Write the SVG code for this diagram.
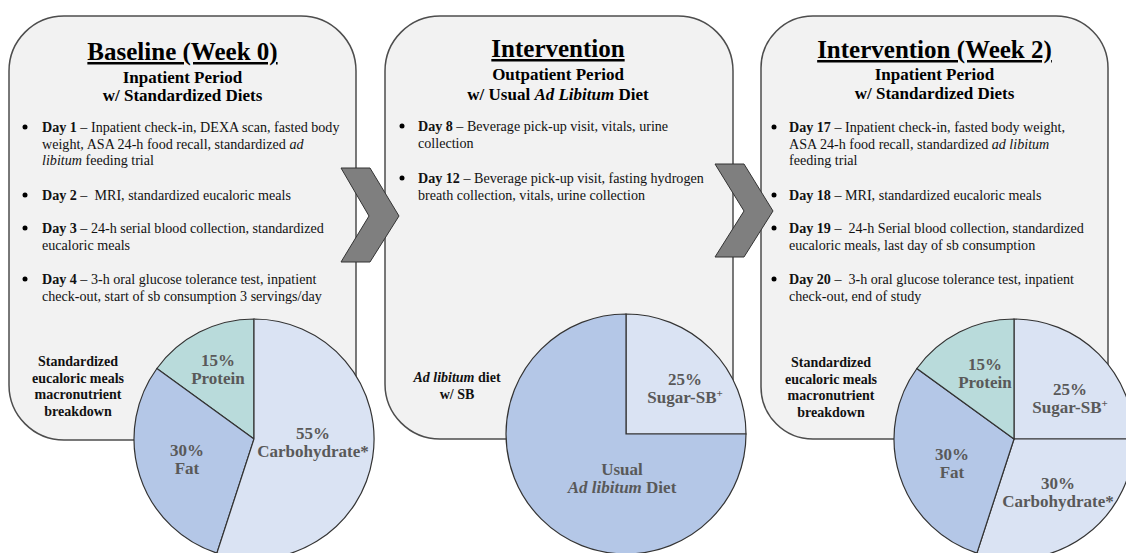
<svg xmlns="http://www.w3.org/2000/svg" width="1126" height="553" viewBox="0 0 1126 553">
<style>
.box{fill:#f2f2f2;stroke:#4d4d4d;stroke-width:1.5}
.chev{fill:#7f7f7f;stroke:#333;stroke-width:1}
.sl{stroke:#333;stroke-width:1.2}
.pro{fill:#b9dbdb}.fat{fill:#b4c7e7}.carb{fill:#dae3f3}
text{font-family:"Liberation Serif","Times New Roman",serif}
.title{font-size:25px;font-weight:bold;text-anchor:middle;text-decoration:underline;fill:#000}
.sub{font-size:17px;font-weight:bold;text-anchor:middle;fill:#000}
.body{font-size:14.1px;fill:#111}
.b{font-weight:bold}
.i{font-style:italic}
.lab{font-size:14px;font-weight:bold;text-anchor:middle;fill:#111}
.pl{font-size:17px;font-weight:bold;text-anchor:middle;fill:#595959}
.dot{fill:#000}
</style>
<rect width="1126" height="553" fill="#fff"/>

<g id="baseline">
<rect class="box" x="9" y="16" width="347" height="424" rx="55" ry="55"/>
<text class="title" x="182.5" y="60">Baseline (Week 0)</text>
<text class="sub" x="182.5" y="83">Inpatient Period</text>
<text class="sub" x="182.5" y="101">w/ Standardized Diets</text>
<circle class="dot" cx="25" cy="127" r="2.5"/>
<text class="body" x="42" y="132"><tspan class="b">Day 1</tspan> – Inpatient check-in, DEXA scan, fasted body</text>
<text class="body" x="42" y="148.5">weight, ASA 24-h food recall, standardized <tspan class="i">ad</tspan></text>
<text class="body" x="42" y="165"><tspan class="i">libitum</tspan> feeding trial</text>
<circle class="dot" cx="25" cy="195" r="2.5"/>
<text class="body" x="42" y="200"><tspan class="b">Day 2</tspan> – &#160;MRI, standardized eucaloric meals</text>
<circle class="dot" cx="25" cy="228" r="2.5"/>
<text class="body" x="42" y="233"><tspan class="b">Day 3</tspan> – 24-h serial blood collection, standardized</text>
<text class="body" x="42" y="249.5">eucaloric meals</text>
<circle class="dot" cx="25" cy="279" r="2.5"/>
<text class="body" x="42" y="284"><tspan class="b">Day 4</tspan> – 3-h oral glucose tolerance test, inpatient</text>
<text class="body" x="42" y="300.5">check-out, start of sb consumption 3 servings/day</text>
<text class="lab" x="78" y="366">Standardized</text>
<text class="lab" x="78" y="382.5">eucaloric meals</text>
<text class="lab" x="78" y="399">macronutrient</text>
<text class="lab" x="78" y="415.5">breakdown</text>
</g>

<g id="pie-baseline">
<path class="pro sl" d="M254,439 L254,319 A120,120 0 0 0 156.9,368.5 Z"/>
<path class="fat sl" d="M254,439 L156.9,368.5 A120,120 0 0 0 216.9,553.1 Z"/>
<path class="carb sl" d="M254,439 L254,319 A120,120 0 1 1 216.9,553.1 Z"/>
<text class="pl" x="218" y="366">15%</text>
<text class="pl" x="218" y="384">Protein</text>
<text class="pl" x="187" y="456">30%</text>
<text class="pl" x="187" y="474">Fat</text>
<text class="pl" x="313" y="439">55%</text>
<text class="pl" x="313" y="457">Carbohydrate*</text>
</g>

<g id="intervention">
<rect class="box" x="385" y="16" width="348" height="423" rx="55" ry="55"/>
<text class="title" x="558" y="57">Intervention</text>
<text class="sub" x="558" y="80">Outpatient Period</text>
<text class="sub" x="558" y="100">w/ Usual <tspan class="i">Ad Libitum</tspan> Diet</text>
<circle class="dot" cx="402" cy="126" r="2.5"/>
<text class="body" x="418" y="131"><tspan class="b">Day 8</tspan> – Beverage pick-up visit, vitals, urine</text>
<text class="body" x="418" y="147.5">collection</text>
<circle class="dot" cx="402" cy="178" r="2.5"/>
<text class="body" x="418" y="183"><tspan class="b">Day 12</tspan> – Beverage pick-up visit, fasting hydrogen</text>
<text class="body" x="418" y="199.5">breath collection, vitals, urine collection</text>
<text class="lab" x="457" y="382"><tspan class="i">Ad libitum</tspan> diet</text>
<text class="lab" x="457" y="398.5">w/ SB</text>
</g>

<g id="pie-intervention">
<path class="carb sl" d="M626,434 L626,314 A120,120 0 0 1 746,434 Z"/>
<path class="fat sl" d="M626,434 L746,434 A120,120 0 1 1 626,314 Z"/>
<text class="pl" x="685" y="385">25%</text>
<text class="pl" x="685" y="403">Sugar-SB<tspan font-size="11" dy="-6">+</tspan></text>
<text class="pl" x="622" y="475">Usual</text>
<text class="pl" x="622" y="493"><tspan class="i">Ad libitum</tspan> Diet</text>
</g>

<g id="week2">
<rect class="box" x="761" y="16" width="347" height="423" rx="52" ry="52"/>
<text class="title" x="934.5" y="58">Intervention (Week 2)</text>
<text class="sub" x="934.5" y="80">Inpatient Period</text>
<text class="sub" x="934.5" y="99">w/ Standardized Diets</text>
<circle class="dot" cx="774" cy="127" r="2.5"/>
<text class="body" x="789" y="132"><tspan class="b">Day 17</tspan> – Inpatient check-in, fasted body weight,</text>
<text class="body" x="789" y="148.5">ASA 24-h food recall, standardized <tspan class="i">ad libitum</tspan></text>
<text class="body" x="789" y="165">feeding trial</text>
<circle class="dot" cx="774" cy="195" r="2.5"/>
<text class="body" x="789" y="200"><tspan class="b">Day 18</tspan> – MRI, standardized eucaloric meals</text>
<circle class="dot" cx="774" cy="228" r="2.5"/>
<text class="body" x="789" y="233"><tspan class="b">Day 19</tspan> – &#160;24-h Serial blood collection, standardized</text>
<text class="body" x="789" y="249.5">eucaloric meals, last day of sb consumption</text>
<circle class="dot" cx="774" cy="279" r="2.5"/>
<text class="body" x="789" y="284"><tspan class="b">Day 20</tspan> – &#160;3-h oral glucose tolerance test, inpatient</text>
<text class="body" x="789" y="300.5">check-out, end of study</text>
<text class="lab" x="831" y="367">Standardized</text>
<text class="lab" x="831" y="383.5">eucaloric meals</text>
<text class="lab" x="831" y="400">macronutrient</text>
<text class="lab" x="831" y="416.5">breakdown</text>
</g>

<g id="pie-week2">
<path class="carb sl" d="M1014,439 L1014,319 A120,120 0 0 1 1134,439 Z"/>
<path class="carb sl" d="M1014,439 L1134,439 A120,120 0 0 1 976.9,553.1 Z"/>
<path class="fat sl" d="M1014,439 L976.9,553.1 A120,120 0 0 1 916.9,368.5 Z"/>
<path class="pro sl" d="M1014,439 L916.9,368.5 A120,120 0 0 1 1014,319 Z"/>
<text class="pl" x="985" y="370">15%</text>
<text class="pl" x="985" y="388">Protein</text>
<text class="pl" x="1070" y="395">25%</text>
<text class="pl" x="1070" y="413">Sugar-SB<tspan font-size="11" dy="-6">+</tspan></text>
<text class="pl" x="952" y="460">30%</text>
<text class="pl" x="952" y="478">Fat</text>
<text class="pl" x="1058" y="489">30%</text>
<text class="pl" x="1058" y="507">Carbohydrate*</text>
</g>

<g id="connectors">
<polygon class="chev" points="341,168 370,168 399,216 370,262 341,262 369,216"/>
<polygon class="chev" points="715,164 744,164 773,211 744,257 715,257 744,211"/>
</g>
</svg>
